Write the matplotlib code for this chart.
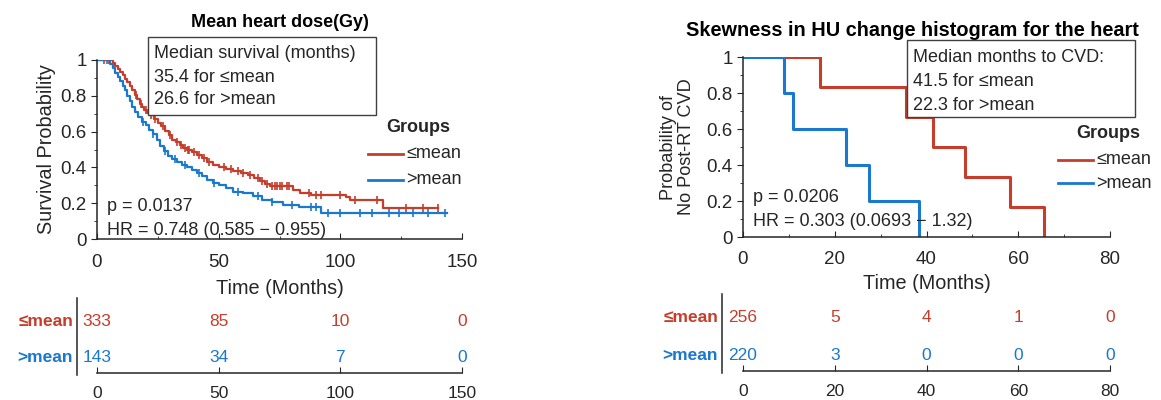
import numpy as np
import matplotlib
matplotlib.use("Agg")
import matplotlib.pyplot as plt
from matplotlib.lines import Line2D
from matplotlib.patches import Rectangle

plt.rcParams["font.family"] = ["Liberation Sans", "DejaVu Sans"]

RED = "#C63D2B"
BLUE = "#1B78CF"
INK = "#262626"

# ---- left panel: mean heart dose, overall survival ----
red_t = [0, 6.5, 7.5, 8.5, 9.5, 10.5, 11.5, 12.5, 13.5, 14.5,
         15.5, 16.5, 17.5, 18.5, 19.5, 20.5, 22, 23.5, 25, 26.5,
         28, 29.5, 31, 32.5, 34, 35.5, 37, 39, 41, 43,
         45, 47.5, 50, 53, 56, 59, 62, 64.5, 67, 69,
         71, 80.5, 83.5, 88, 102.5, 104, 117.5, 140.3]
red_s = [1, 0.985, 0.965, 0.95, 0.935, 0.915, 0.895, 0.875, 0.855, 0.83,
         0.805, 0.78, 0.755, 0.735, 0.72, 0.705, 0.69, 0.67, 0.65, 0.63,
         0.605, 0.58, 0.555, 0.54, 0.525, 0.51, 0.5, 0.485, 0.47, 0.45,
         0.43, 0.415, 0.4, 0.39, 0.38, 0.37, 0.355, 0.34, 0.325, 0.31,
         0.295, 0.272, 0.255, 0.246, 0.235, 0.218, 0.171, 0.171]
red_cens = [3, 5, 16, 18, 20, 22, 24, 27, 30, 33, 34.5, 36, 37.5, 38, 40, 42, 44,
            46, 52, 55, 58, 60, 63, 66, 68, 70, 72, 73, 74, 75, 76, 78, 79,
            87, 90, 92, 100, 106, 115, 127, 134, 140]

blue_t = [0, 5.5, 6.5, 7.5, 8.5, 9.5, 10.5, 11.5, 12.5, 13.5,
          14.5, 15.5, 17, 18.5, 20, 21.5, 23, 24.5, 26, 27.5,
          29, 31, 33, 35, 37, 39, 41, 43, 45, 47.5,
          50, 53, 56, 60, 64, 68, 72, 76.5, 83, 92, 143.7]
blue_s = [1, 0.98, 0.955, 0.93, 0.905, 0.88, 0.855, 0.83, 0.8, 0.77,
          0.74, 0.71, 0.68, 0.655, 0.635, 0.61, 0.585, 0.555, 0.52, 0.49,
          0.465, 0.445, 0.43, 0.415, 0.4, 0.385, 0.37, 0.35, 0.33, 0.315,
          0.3, 0.285, 0.265, 0.255, 0.24, 0.22, 0.205, 0.19, 0.177, 0.147, 0.147]
blue_cens = [4, 19, 23, 28, 32, 36, 42, 48, 58, 66, 72, 80, 88, 90, 95, 100,
             108, 113, 120, 124, 130, 136, 143]

left_ticks = [0, 50, 100, 150]
left_risk_low = [333, 85, 10, 0]
left_risk_high = [143, 34, 7, 0]

# ---- right panel: skewness, CVD ----
red2_t = [0, 16.7, 35.5, 41.5, 48.4, 58.3, 65.7]
red2_s = [1, 0.833, 0.667, 0.5, 0.333, 0.167, 0]
blue2_t = [0, 8.9, 10.8, 22.4, 27.4, 38.3]
blue2_s = [1, 0.8, 0.6, 0.4, 0.2, 0]

right_ticks = [0, 20, 40, 60, 80]
right_risk_low = [256, 5, 4, 1, 0]
right_risk_high = [220, 3, 0, 0, 0]

W, H = 1161, 400


def px(x0, y0, x1, y1):
    # pixel box (top-left origin) -> figure rect
    return [x0 / W, 1 - y1 / H, (x1 - x0) / W, (y1 - y0) / H]


def fx(x):
    return x / W


def fy(y):
    return 1 - y / H


def surv_at(times, surv, t):
    i = np.searchsorted(times, t, side="right") - 1
    return np.array(surv)[i]


def style_km(ax, xmax, xstep, minor, xpad):
    ax.set_xlim(0, xmax)
    ax.set_ylim(0, 1)
    ax.set_xticks(np.arange(0, xmax + 1, xstep))
    ax.set_xticks(np.arange(0, xmax + 1, minor), minor=True)
    ax.set_yticks([0, 0.2, 0.4, 0.6, 0.8, 1])
    ax.set_yticklabels(["0", "0.2", "0.4", "0.6", "0.8", "1"])
    ax.set_yticks(np.arange(0, 1.01, 0.1), minor=True)
    for s in ["top", "right"]:
        ax.spines[s].set_visible(False)
    for s in ["left", "bottom"]:
        ax.spines[s].set_color(INK)
        ax.spines[s].set_linewidth(1.1)
    ax.tick_params(axis="x", direction="in", length=4, labelsize=13.5, colors=INK, pad=xpad)
    ax.tick_params(axis="x", which="minor", direction="in", length=2, colors=INK)
    ax.tick_params(axis="y", direction="out", length=4, labelsize=13.5, colors=INK)
    ax.tick_params(axis="y", which="minor", direction="out", length=2, colors=INK)


def risk_table(ax, ticks, low, high, xmax, vline_x, y_rows, y_top, y_axis):
    ax.set_xlim(0, xmax)
    ax.set_ylim(0, 1)
    ax.set_xticks(ticks)
    ax.set_yticks([])
    for s in ["top", "right", "left"]:
        ax.spines[s].set_visible(False)
    ax.spines["bottom"].set_color(INK)
    ax.spines["bottom"].set_linewidth(1.1)
    ax.tick_params(axis="x", direction="in", length=4, labelsize=12.5, colors=INK, pad=9)
    span = y_axis - y_top
    r1 = (y_axis - y_rows[0]) / span
    r2 = (y_axis - y_rows[1]) / span
    for t, a, b in zip(ticks, low, high):
        ax.text(t, r1, str(a), color=RED, ha="center", va="center", fontsize=12.5)
        ax.text(t, r2, str(b), color=BLUE, ha="center", va="center", fontsize=12.5)
    ax.figure.text(fx(vline_x - 4), fy(y_rows[0]), "≤mean", color=RED, ha="right",
                   va="center", fontsize=12.5, fontweight="bold")
    ax.figure.text(fx(vline_x - 4), fy(y_rows[1]), ">mean", color=BLUE, ha="right",
                   va="center", fontsize=12.5, fontweight="bold")
    ax.figure.add_artist(Line2D([fx(vline_x), fx(vline_x)], [fy(y_top - 4), fy(y_axis + 2)],
                                color=INK, lw=1.1))


def text_box(fig, x0, y0, x1, y1, lines, line_y, tx):
    fig.add_artist(Rectangle((fx(x0), fy(y1)), fx(x1) - fx(x0), fy(y0) - fy(y1),
                             transform=fig.transFigure, fill=True, facecolor="white",
                             edgecolor="#404040", lw=1.0, zorder=5))
    for s, y in zip(lines, line_y):
        fig.text(fx(tx), fy(y), s, fontsize=13, color=INK, va="center", ha="left", zorder=6)


def groups_legend(fig, gx, gy, lx0, lx1, ly1, ly2, lw):
    fig.text(fx(gx), fy(gy), "Groups", fontsize=13, fontweight="bold", color=INK,
             ha="center", va="center")
    fig.add_artist(Line2D([fx(lx0), fx(lx1)], [fy(ly1), fy(ly1)], color=RED, lw=lw))
    fig.add_artist(Line2D([fx(lx0), fx(lx1)], [fy(ly2), fy(ly2)], color=BLUE, lw=lw))
    fig.text(fx(lx1 + 3), fy(ly1), "≤mean", fontsize=13, color=INK, va="center")
    fig.text(fx(lx1 + 3), fy(ly2), ">mean", fontsize=13, color=INK, va="center")


fig = plt.figure(figsize=(11.61, 4.0), dpi=100)

# left KM
ax1 = fig.add_axes(px(97, 60, 462, 239))
ax1.step(red_t, red_s, where="post", color=RED, lw=1.6)
ax1.step(blue_t, blue_s, where="post", color=BLUE, lw=1.6)
ax1.plot(red_cens, [surv_at(red_t, red_s, t) for t in red_cens], "|", color=RED, ms=6, mew=1.2)
ax1.plot(blue_cens, [surv_at(blue_t, blue_s, t) for t in blue_cens], "|", color=BLUE, ms=6, mew=1.2)
style_km(ax1, 150, 50, 25, 11)
ax1.set_ylabel("Survival Probability", fontsize=14.3, color=INK)
ax1.yaxis.set_label_coords(-0.112, 0.5)
ax1.set_xlabel("Time (Months)", fontsize=14.3, color=INK)
ax1.xaxis.set_label_coords(0.5, -0.225)
ax1.text(0.5, 1.212, "Mean heart dose(Gy)", transform=ax1.transAxes, ha="center",
         va="center", fontsize=13, fontweight="bold", color="black")
ax1.text(4, 0.183, "p = 0.0137", fontsize=13, color=INK, va="center")
ax1.text(4, 0.045, "HR = 0.748 (0.585 − 0.955)", fontsize=13, color=INK, va="center")

text_box(fig, 148, 37, 376, 115,
         ["Median survival (months)", "35.4 for ≤mean", "26.6 for >mean"],
         [53, 77, 100], 154)
groups_legend(fig, 418, 128, 368, 403, 154, 180, 2.0)

# right KM
ax2 = fig.add_axes(px(743, 57, 1110, 237))
ax2.step(red2_t, red2_s, where="post", color=RED, lw=2.2)
ax2.step(blue2_t, blue2_s, where="post", color=BLUE, lw=2.2)
style_km(ax2, 80, 20, 10, 10)
ax2.set_ylabel("Probability of\nNo Post-RT CVD", fontsize=13.1, color=INK, linespacing=1.1)
ax2.yaxis.set_label_coords(-0.131, 0.5)
ax2.set_xlabel("Time (Months)", fontsize=14.3, color=INK)
ax2.xaxis.set_label_coords(0.5, -0.205)
ax2.text((912 - 743) / 367, 1.15, "Skewness in HU change histogram for the heart",
         transform=ax2.transAxes, ha="center", va="center", fontsize=14.3,
         fontweight="bold", color="black")
ax2.text(2.2, 0.22, "p = 0.0206", fontsize=13, color=INK, va="center")
ax2.text(2.2, 0.085, "HR = 0.303 (0.0693 − 1.32)", fontsize=13, color=INK, va="center")

text_box(fig, 907, 40, 1135, 117,
         ["Median months to CVD:", "41.5 for ≤mean", "22.3 for >mean"],
         [58, 82, 105], 913)
groups_legend(fig, 1108, 133, 1058, 1093, 160, 183, 2.0)

# risk tables
ax3 = fig.add_axes(px(97, 302, 462, 373))
risk_table(ax3, left_ticks, left_risk_low, left_risk_high, 150, 77, [322, 358], 302, 373)

ax4 = fig.add_axes(px(743, 298, 1110, 371))
risk_table(ax4, right_ticks, right_risk_low, right_risk_high, 80, 722, [318, 355], 298, 371)

fig.savefig("out.png", dpi=100, facecolor="white")
